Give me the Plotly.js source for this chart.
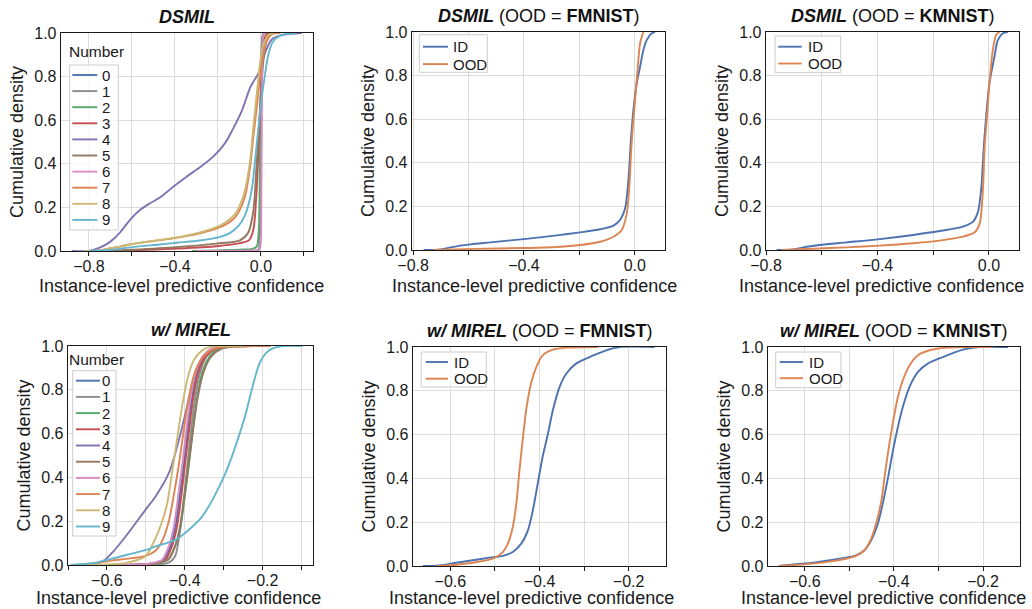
<!DOCTYPE html>
<html><head><meta charset="utf-8">
<script src="https://cdn.plot.ly/plotly-3.0.1.min.js"></script>
<style>html,body{margin:0;padding:0;background:#fff;}#chart{width:1032px;height:609px;}</style>
</head><body><div id="chart"></div>
<script>
// ================= DATA =================
const digitNames = ['0','1','2','3','4','5','6','7','8','9'];
const idoodNames = ['ID','OOD'];
const xTitleText = 'Instance-level predictive confidence';
const yTitleText = 'Cumulative density';

const topTickVals = [-0.8,-0.6,-0.4,-0.2,0,0.2];
const topTickText = ['\u22120.8','','\u22120.4','','0.0',''];
const botTickVals = [-0.7,-0.6,-0.5,-0.4,-0.3,-0.2,-0.1];
const botTickText = ['','\u22120.6','','\u22120.4','','\u22120.2',''];
const yTickVals = [0,0.2,0.4,0.6,0.8,1.0];
const yTickText = ['0.0','0.2','0.4','0.6','0.8','1.0'];

// --- DSMIL (top-left), per digit ---
const dsmilX0 = [-0.10,-0.012,-0.006,-0.003,0.0,0.003,0.006,0.012,0.03];
const dsmilY0 = [0,0.002,0.04,0.25,0.6,0.88,0.97,0.998,1.0];
const dsmilX1 = [-0.30,-0.1,-0.012,-0.006,-0.003,0.0,0.003,0.006,0.012,0.03];
const dsmilY1 = [0,0.001,0.004,0.03,0.2,0.55,0.88,0.98,1.0,1.0];
const dsmilX2 = [-0.32,-0.2,-0.1,-0.04,-0.02,-0.01,-0.005,0.0,0.005,0.012,0.025];
const dsmilY2 = [0,0.003,0.006,0.01,0.02,0.1,0.4,0.72,0.93,0.995,1.0];
const dsmilX3 = [-0.72,-0.596,-0.394,-0.207,-0.098,-0.055,-0.035,-0.022,-0.012,-0.004,0.004,0.014,0.03,0.05];
const dsmilY3 = [0,0.003,0.011,0.022,0.036,0.05,0.1,0.25,0.45,0.64,0.85,0.97,0.998,1.0];
const dsmilX4 = [-0.88,-0.80,-0.75,-0.70,-0.656,-0.61,-0.563,-0.516,-0.47,-0.408,-0.346,-0.284,-0.222,-0.167,-0.13,-0.09,-0.05,-0.012,0.019,0.05,0.096,0.19];
const dsmilY4 = [0,0,0.015,0.043,0.084,0.142,0.188,0.219,0.245,0.295,0.341,0.384,0.433,0.495,0.56,0.64,0.75,0.816,0.908,0.97,0.99,1.0];
const dsmilX5 = [-0.72,-0.596,-0.394,-0.207,-0.098,-0.059,-0.036,-0.02,-0.005,0.011,0.026,0.05,0.07];
const dsmilY5 = [0,0.006,0.018,0.034,0.049,0.085,0.18,0.40,0.645,0.87,0.963,0.996,1.0];
const dsmilX6 = [-0.30,-0.05,-0.01,-0.003,0.002,0.005,0.008,0.012,0.025];
const dsmilY6 = [0,0.002,0.006,0.02,0.3,0.7,0.95,1.0,1.0];
const dsmilX7 = [-0.82,-0.75,-0.705,-0.656,-0.609,-0.563,-0.47,-0.377,-0.284,-0.19,-0.15,-0.12,-0.10,-0.074,-0.051,-0.036,-0.02,-0.005,0.011,0.026,0.05,0.09];
const dsmilY7 = [0,0.003,0.012,0.02,0.031,0.037,0.05,0.063,0.081,0.109,0.13,0.155,0.185,0.25,0.381,0.518,0.656,0.794,0.9,0.962,0.995,1.0];
const dsmilX8 = [-0.82,-0.75,-0.705,-0.656,-0.609,-0.563,-0.47,-0.377,-0.284,-0.19,-0.15,-0.12,-0.10,-0.074,-0.051,-0.036,-0.02,-0.005,0.011,0.034,0.06];
const dsmilY8 = [0,0.003,0.012,0.02,0.031,0.038,0.051,0.065,0.085,0.117,0.142,0.17,0.205,0.28,0.41,0.564,0.717,0.855,0.946,0.99,1.0];
const dsmilX9 = [-0.80,-0.70,-0.60,-0.47,-0.39,-0.285,-0.19,-0.145,-0.105,-0.074,-0.043,-0.028,-0.012,0.003,0.019,0.034,0.057,0.096,0.16];
const dsmilY9 = [0,0.005,0.018,0.03,0.038,0.048,0.065,0.082,0.115,0.165,0.28,0.41,0.564,0.70,0.81,0.90,0.962,0.99,1.0];

// --- w/ MIREL (bottom-left), per digit ---
const mirelX0 = [-0.62,-0.52,-0.478,-0.455,-0.437,-0.424,-0.413,-0.403,-0.393,-0.382,-0.369,-0.350,-0.325,-0.29,-0.22];
const mirelY0 = [0,0.002,0.01,0.024,0.085,0.176,0.313,0.449,0.601,0.753,0.874,0.95,0.988,0.998,1.0];
const mirelX1 = [-0.55,-0.47,-0.44,-0.425,-0.415,-0.405,-0.396,-0.386,-0.375,-0.362,-0.345,-0.32,-0.29,-0.22];
const mirelY1 = [0,0.003,0.012,0.04,0.12,0.26,0.41,0.58,0.74,0.87,0.95,0.988,0.998,1.0];
const mirelX2 = [-0.60,-0.51,-0.468,-0.443,-0.425,-0.411,-0.400,-0.390,-0.380,-0.369,-0.356,-0.337,-0.312,-0.28,-0.21];
const mirelY2 = [0,0.002,0.01,0.024,0.085,0.176,0.313,0.449,0.601,0.753,0.874,0.95,0.988,0.998,1.0];
const mirelX3 = [-0.62,-0.52,-0.475,-0.450,-0.433,-0.420,-0.409,-0.400,-0.390,-0.379,-0.366,-0.347,-0.321,-0.287,-0.22];
const mirelY3 = [0,0.002,0.01,0.024,0.085,0.176,0.313,0.449,0.601,0.753,0.874,0.95,0.988,0.998,1.0];
const mirelX4 = [-0.69,-0.64,-0.608,-0.582,-0.552,-0.501,-0.475,-0.441,-0.415,-0.39,-0.373,-0.347,-0.321,-0.29,-0.22];
const mirelY4 = [0,0.002,0.02,0.065,0.13,0.252,0.313,0.419,0.571,0.753,0.874,0.965,0.995,1.0,1.0];
const mirelX5 = [-0.60,-0.50,-0.465,-0.442,-0.425,-0.412,-0.401,-0.391,-0.38,-0.368,-0.353,-0.333,-0.305,-0.27,-0.18];
const mirelY5 = [0,0.003,0.012,0.026,0.085,0.176,0.313,0.449,0.601,0.753,0.874,0.95,0.988,0.998,1.0];
const mirelX6 = [-0.62,-0.52,-0.48,-0.458,-0.441,-0.428,-0.417,-0.407,-0.397,-0.386,-0.373,-0.355,-0.33,-0.30,-0.22];
const mirelY6 = [0,0.002,0.01,0.024,0.085,0.176,0.313,0.449,0.601,0.753,0.874,0.95,0.988,0.998,1.0];
const mirelX7 = [-0.69,-0.63,-0.59,-0.55,-0.50,-0.475,-0.458,-0.441,-0.428,-0.415,-0.403,-0.390,-0.373,-0.351,-0.321,-0.287,-0.18];
const mirelY7 = [0,0.008,0.02,0.028,0.042,0.065,0.11,0.20,0.32,0.46,0.61,0.76,0.885,0.955,0.99,0.998,1.0];
const mirelX8 = [-0.65,-0.60,-0.55,-0.501,-0.475,-0.458,-0.445,-0.433,-0.420,-0.407,-0.394,-0.377,-0.355,-0.330,-0.30,-0.25];
const mirelY8 = [0,0.003,0.01,0.04,0.123,0.2,0.282,0.419,0.571,0.722,0.844,0.935,0.98,0.998,1.0,1.0];
const mirelX9 = [-0.694,-0.634,-0.591,-0.548,-0.497,-0.475,-0.424,-0.39,-0.355,-0.325,-0.2955,-0.276,-0.259,-0.242,-0.225,-0.208,-0.19,-0.17,-0.145,-0.098];
const mirelY9 = [0,0.009,0.027,0.047,0.07,0.085,0.115,0.16,0.222,0.31,0.419,0.51,0.60,0.70,0.82,0.92,0.97,0.992,1.0,1.0];

// --- DSMIL, OOD = FMNIST ---
const dsFmIdX = [-0.762,-0.70,-0.665,-0.63,-0.593,-0.521,-0.401,-0.281,-0.197,-0.125,-0.077,-0.053,-0.035,-0.023,-0.014,-0.005,0.007,0.019,0.031,0.043,0.061,0.073];
const dsFmIdY = [0,0.003,0.012,0.02,0.026,0.035,0.05,0.067,0.081,0.095,0.112,0.138,0.191,0.321,0.505,0.642,0.765,0.84,0.917,0.963,0.994,1.0];
const dsFmOodX = [-0.726,-0.581,-0.401,-0.281,-0.197,-0.125,-0.077,-0.047,-0.029,-0.019,-0.013,-0.007,0.001,0.011,0.019,0.031];
const dsFmOodY = [0,0.005,0.009,0.014,0.023,0.038,0.061,0.092,0.168,0.306,0.459,0.566,0.688,0.84,0.948,1.0];

// --- DSMIL, OOD = KMNIST ---
const dsKmIdX = [-0.762,-0.702,-0.654,-0.607,-0.511,-0.392,-0.272,-0.177,-0.093,-0.057,-0.039,-0.027,-0.019,-0.01,0.002,0.02,0.032,0.05,0.068];
const dsKmIdY = [0,0.003,0.015,0.023,0.035,0.05,0.069,0.087,0.107,0.13,0.176,0.29,0.459,0.612,0.765,0.887,0.963,0.994,1.0];
const dsKmOodX = [-0.744,-0.63,-0.511,-0.392,-0.272,-0.177,-0.093,-0.051,-0.033,-0.021,-0.016,-0.007,0.002,0.014,0.026,0.038];
const dsKmOodY = [0,0.006,0.012,0.02,0.031,0.043,0.061,0.081,0.122,0.29,0.459,0.612,0.765,0.917,0.986,1.0];

// --- w/ MIREL, OOD = FMNIST ---
const miFmIdX = [-0.662,-0.625,-0.587,-0.55,-0.512,-0.482,-0.46,-0.441,-0.426,-0.415,-0.404,-0.393,-0.381,-0.37,-0.355,-0.34,-0.318,-0.288,-0.25,-0.22,-0.142];
const miFmIdY = [0,0.003,0.015,0.026,0.038,0.046,0.064,0.102,0.163,0.254,0.376,0.498,0.604,0.711,0.817,0.878,0.924,0.954,0.985,1.0,1.0];
const miFmOodX = [-0.632,-0.587,-0.55,-0.512,-0.497,-0.482,-0.471,-0.46,-0.452,-0.445,-0.437,-0.43,-0.419,-0.407,-0.393,-0.37,-0.34,-0.269];
const miFmOodY = [0,0.006,0.015,0.029,0.041,0.064,0.102,0.178,0.285,0.437,0.589,0.711,0.833,0.909,0.962,0.988,0.997,1.0];

// --- w/ MIREL, OOD = KMNIST ---
const miKmIdX = [-0.658,-0.619,-0.582,-0.545,-0.507,-0.485,-0.466,-0.451,-0.436,-0.425,-0.413,-0.402,-0.391,-0.38,-0.365,-0.346,-0.324,-0.29,-0.245,-0.208,-0.144];
const miKmIdY = [0,0.008,0.015,0.026,0.038,0.049,0.072,0.117,0.193,0.285,0.406,0.528,0.635,0.726,0.817,0.886,0.924,0.954,0.988,1.0,1.0];
const miKmOodX = [-0.657,-0.619,-0.582,-0.545,-0.507,-0.485,-0.466,-0.451,-0.44,-0.428,-0.419,-0.41,-0.40,-0.391,-0.38,-0.365,-0.346,-0.32,-0.282,-0.245,-0.181];
const miKmOodY = [0,0.005,0.011,0.02,0.033,0.046,0.072,0.125,0.193,0.30,0.437,0.559,0.68,0.772,0.848,0.916,0.962,0.985,0.997,1.0,1.0];

// ================= STYLE / LAYOUT =================
const digitColors = ['#4C72B0','#8C8C8C','#55A868','#C44E52','#8172B3','#937860','#DA8BC3','#DD8452','#CCB974','#64B5CD'];
const idoodColors = ['#4C72B0','#DD8452'];
const FONT = '"Liberation Sans", Arial, Helvetica, sans-serif';
const INK = '#1a1a1a';
const W = 1032, H = 609;

const panels = [
  {px:[61,313],  py:[33,251],  range:[-0.93,0.242],  top:true, xtc:181, xty:286,
   title:'<b><i>DSMIL</i></b>',
   series:[[dsmilX0,dsmilY0],[dsmilX1,dsmilY1],[dsmilX2,dsmilY2],[dsmilX3,dsmilY3],[dsmilX4,dsmilY4],[dsmilX5,dsmilY5],[dsmilX6,dsmilY6],[dsmilX7,dsmilY7],[dsmilX8,dsmilY8],[dsmilX9,dsmilY9]],
   names:digitNames, colors:digitColors,
   leg:{left:8.7,top:32,right:57.3,bottom:197,row0:42,rowH:16.1,lx0:11.3,lx1:36.3,tx:40.3,fs:15,title:'Number',tleft:7,tcy:18}},
  {px:[412,665], py:[32,250],  range:[-0.804,0.109], top:true, xtc:534, xty:286,
   title:'<b><i>DSMIL</i></b> (OOD = <b>FMNIST</b>)',
   series:[[dsFmIdX,dsFmIdY],[dsFmOodX,dsFmOodY]], names:idoodNames, colors:idoodColors,
   leg:{left:7.3,top:2.7,right:75.3,bottom:40.3,row0:14.7,rowH:17.4,lx0:11,lx1:36,tx:39.5,fs:15}},
  {px:[766,1019],py:[32,250],  range:[-0.80,0.108],  top:true, xtc:881, xty:286,
   title:'<b><i>DSMIL</i></b> (OOD = <b>KMNIST</b>)',
   series:[[dsKmIdX,dsKmIdY],[dsKmOodX,dsKmOodY]], names:idoodNames, colors:idoodColors,
   leg:{left:9,top:4,right:74.7,bottom:40.7,row0:14.7,rowH:16.8,lx0:12.3,lx1:35.7,tx:41,fs:15}},
  {px:[68,313],  py:[346,565], range:[-0.70,-0.0705], top:false, xtc:178, xty:598,
   title:'<b><i>w/ MIREL</i></b>',
   series:[[mirelX0,mirelY0],[mirelX1,mirelY1],[mirelX2,mirelY2],[mirelX3,mirelY3],[mirelX4,mirelY4],[mirelX5,mirelY5],[mirelX6,mirelY6],[mirelX7,mirelY7],[mirelX8,mirelY8],[mirelX9,mirelY9]],
   names:digitNames, colors:digitColors,
   leg:{left:4.7,top:24.7,right:48,bottom:190,row0:34.7,rowH:16.2,lx0:8,lx1:32,tx:33,fs:15,title:'Number',tleft:0,tcy:13}},
  {px:[413,666], py:[347,566], range:[-0.684,-0.116], top:false, xtc:531, xty:598,
   title:'<b><i>w/ MIREL</i></b> (OOD = <b>FMNIST</b>)',
   series:[[miFmIdX,miFmIdY],[miFmOodX,miFmOodY]], names:idoodNames, colors:idoodColors,
   leg:{left:8.3,top:5,right:73.3,bottom:40,row0:15,rowH:16.7,lx0:12.7,lx1:35,tx:39.5,fs:15}},
  {px:[768,1020],py:[347,566], range:[-0.6825,-0.117], top:false, xtc:883, xty:598,
   title:'<b><i>w/ MIREL</i></b> (OOD = <b>KMNIST</b>)',
   series:[[miKmIdX,miKmIdY],[miKmOodX,miKmOodY]], names:idoodNames, colors:idoodColors,
   leg:{left:7.7,top:5,right:73,bottom:40.7,row0:15,rowH:16.2,lx0:11.7,lx1:35,tx:39.5,fs:15}}
];

const data = [];
const layout = {
  width:W, height:H, margin:{l:0,r:0,t:0,b:0},
  paper_bgcolor:'#fff', plot_bgcolor:'#fff',
  showlegend:false, hovermode:false,
  font:{family:FONT, color:INK, size:16},
  shapes:[], annotations:[]
};

panels.forEach((p, i) => {
  const n = i + 1;
  const xa = n === 1 ? 'xaxis' : 'xaxis' + n;
  const ya = n === 1 ? 'yaxis' : 'yaxis' + n;
  const xr = n === 1 ? 'x' : 'x' + n;
  const yr = n === 1 ? 'y' : 'y' + n;
  layout[xa] = {
    domain:[p.px[0]/W, p.px[1]/W], anchor:yr, range:p.range,
    tickmode:'array', tickvals:p.top ? topTickVals : botTickVals, ticktext:p.top ? topTickText : botTickText,
    ticks:'outside', ticklen:4, tickwidth:1, tickcolor:INK, ticklabelstandoff:-4,
    showgrid:true, gridcolor:'#dcdcdc', gridwidth:1, zeroline:false,
    showline:true, mirror:true, linecolor:INK, linewidth:1.3,
    tickfont:{size:16, color:INK}
  };
  layout[ya] = {
    domain:[1 - p.py[1]/H, 1 - p.py[0]/H], anchor:xr, range:[0,1],
    tickmode:'array', tickvals:yTickVals, ticktext:yTickText,
    ticks:'', showgrid:true, gridcolor:'#dcdcdc', gridwidth:1, zeroline:false,
    showline:true, mirror:true, linecolor:INK, linewidth:1.3,
    tickfont:{size:16, color:INK},
    title:{text:yTitleText, font:{size:18, color:INK}, standoff:6}
  };
  p.series.forEach((s, k) => {
    data.push({type:'scatter', mode:'lines', x:s[0], y:s[1], name:p.names[k],
      xaxis:xr, yaxis:yr, line:{color:p.colors[k], width:1.9, shape:'spline', smoothing:0.8},
      showlegend:false, hoverinfo:'skip'});
  });
  // panel title
  layout.annotations.push({xref:xr + ' domain', yref:yr + ' domain', x:0.5, y:1, xanchor:'center', yanchor:'bottom',
    yshift:5, showarrow:false, text:p.title, font:{size:18, color:'#111'}, borderpad:0});
  // x-axis title (placed as in the reference, slightly left of the axes centre)
  layout.annotations.push({xref:'paper', yref:'paper', x:p.xtc / W, y:1 - p.xty / H, xanchor:'center', yanchor:'middle',
    showarrow:false, text:xTitleText, font:{size:18, color:INK}, borderpad:0});
  // legend box
  const L = p.leg;
  const pw = p.px[1] - p.px[0], ph = p.py[1] - p.py[0];
  const fx = v => v / pw, fy = v => 1 - v / ph;
  const dx = xr + ' domain', dy = yr + ' domain';
  layout.shapes.push({type:'rect', xref:dx, yref:dy, x0:fx(L.left), x1:fx(L.right), y0:fy(L.bottom), y1:fy(L.top),
    fillcolor:'rgba(255,255,255,0.8)', line:{color:'#cccccc', width:1}, layer:'above'});
  p.names.forEach((nm, k) => {
    const cy = L.row0 + k * L.rowH;
    layout.shapes.push({type:'line', xref:dx, yref:dy, x0:fx(L.lx0), x1:fx(L.lx1), y0:fy(cy), y1:fy(cy),
      line:{color:p.colors[k], width:1.9}, layer:'above'});
    layout.annotations.push({xref:dx, yref:dy, x:fx(L.tx), y:fy(cy), xanchor:'left', yanchor:'middle',
      showarrow:false, text:nm, font:{size:L.fs, color:INK}, borderpad:0});
  });
  if (L.title) {
    layout.annotations.push({xref:dx, yref:dy, x:fx(L.tleft), y:fy(L.tcy), xanchor:'left', yanchor:'middle',
      showarrow:false, text:L.title, font:{size:15.5, color:INK}, borderpad:0});
  }
});

Plotly.newPlot('chart', data, layout, {staticPlot:true, displayModeBar:false});
</script>
</body></html>
